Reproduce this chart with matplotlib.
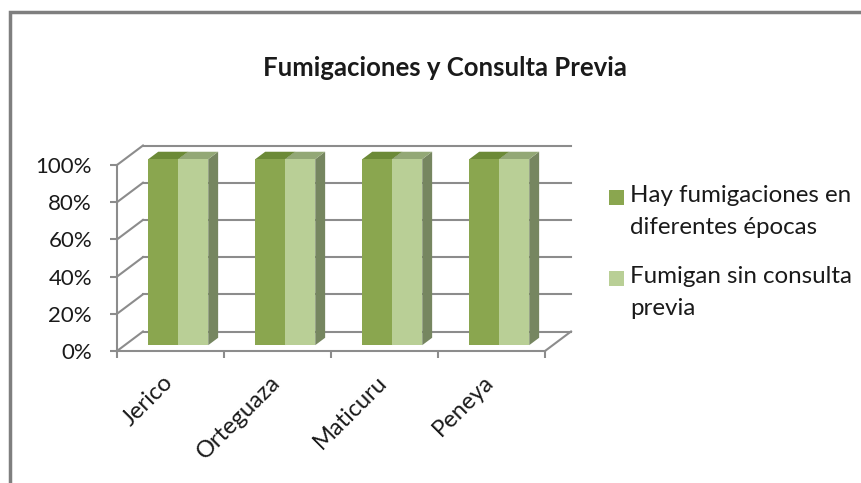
import matplotlib.pyplot as plt
from matplotlib.patches import Polygon, Rectangle
from matplotlib.transforms import ScaledTranslation

# Data
categories = ['Jerico', 'Orteguaza', 'Maticuru', 'Peneya']
series_names = ['Hay fumigaciones en\ndiferentes épocas', 'Fumigan sin consulta\nprevia']
fumigaciones = [100, 100, 100, 100]
sin_consulta = [100, 100, 100, 100]
y_ticks = [0, 20, 40, 60, 80, 100]

plt.rcParams['font.family'] = ['Lato', 'DejaVu Sans']

W, H = 861, 483
fig = plt.figure(figsize=(W / 100, H / 100), dpi=100)

# outer chart frame (only left and top visible)
fig.add_artist(Rectangle((9.5 / W, -0.1), 1.2, 1.1 + (H - 12) / H - 1,
                         transform=fig.transFigure, fill=False,
                         edgecolor='#7f7f7f', lw=2.5))

ax = fig.add_axes([117 / W, 132 / H, 428 / W, 186 / H])
ax.set_xlim(0, 4)
ax.set_ylim(0, 100)
ax.patch.set_visible(False)

grid_c = '#8c8c8c'
DX = 26 / 107          # depth offset in category units
DY = 19.5 / 1.86       # depth offset in percent units


def proj(x, y, z):
    return (x + z * DX, y + z * DY)


# walls and floor
for v in y_ticks:
    ax.plot([DX, 4 + DX], [v + DY, v + DY], color=grid_c, lw=1.5, clip_on=False, zorder=1)
    ax.plot([0, DX], [v, v + DY], color=grid_c, lw=1.5, clip_on=False, zorder=1)
ax.plot([4, 4 + DX], [0, DY], color=grid_c, lw=1.5, clip_on=False, zorder=1)

# 3D-looking bars
width = 0.28
Z0, Z1 = 0.3, 0.68
series = [fumigaciones, sin_consulta]
fronts = ['#8aa64f', '#b9cf96']
tops = ['#6c8a37', '#93a876']
sides = ['#6e7f52', '#768660']
for i in range(len(categories)):
    for k, vals in enumerate(series):
        v = vals[i]
        x0 = i + 0.5 - width + k * width
        x1 = x0 + width
        front = [proj(x0, 0, Z0), proj(x1, 0, Z0), proj(x1, v, Z0), proj(x0, v, Z0)]
        top = [proj(x0, v, Z0), proj(x1, v, Z0), proj(x1, v, Z1), proj(x0, v, Z1)]
        side = [proj(x1, 0, Z0), proj(x1, v, Z0), proj(x1, v, Z1), proj(x1, 0, Z1)]
        for pts, c in [(side, sides[k]), (top, tops[k]), (front, fronts[k])]:
            ax.add_patch(Polygon(pts, closed=True, facecolor=c, edgecolor='none',
                                 clip_on=False, zorder=3))

# axes
for s in ['top', 'right']:
    ax.spines[s].set_visible(False)
for s in ['left', 'bottom']:
    ax.spines[s].set_color(grid_c)
    ax.spines[s].set_linewidth(1.5)

ax.set_yticks(y_ticks)
ax.set_yticklabels([f'{v}%' for v in y_ticks])
ax.tick_params(axis='y', length=5, width=1.5, color=grid_c, pad=13,
               labelsize=16, labelcolor='#1a1a1a')

ax.set_xticks(range(len(categories) + 1))
ax.set_xticklabels([])
ax.tick_params(axis='x', which='major', length=5, width=1.5, color=grid_c)
ax.set_xticks([i + 0.5 for i in range(len(categories))], minor=True)
ax.set_xticklabels(categories, minor=True, rotation=45, ha='right')
ax.tick_params(axis='x', which='minor', length=0, pad=15, labelsize=17,
               labelcolor='#1a1a1a')
for lab in ax.get_xticklabels(minor=True):
    lab.set_transform(lab.get_transform() + ScaledTranslation(0.065, 0, fig.dpi_scale_trans))

# title
fig.text(445 / W, 1 - 68 / H, 'Fumigaciones y Consulta Previa', ha='center', va='center',
         fontsize=18.5, fontweight='bold', color='#1a1a1a')

# legend (markers next to first line of each entry)
leg_tops = [185, 266]
for name, c, ty in zip(series_names, fronts, leg_tops):
    fig.add_artist(Rectangle((609 / W, 1 - (ty + 20) / H), 15 / W, 15 / H,
                             transform=fig.transFigure, facecolor=c, edgecolor='none'))
    fig.text(630 / W, 1 - ty / H, name, ha='left', va='top', fontsize=17.4,
             linespacing=1.65, color='#1a1a1a')

fig.savefig('out.png', dpi=100)
